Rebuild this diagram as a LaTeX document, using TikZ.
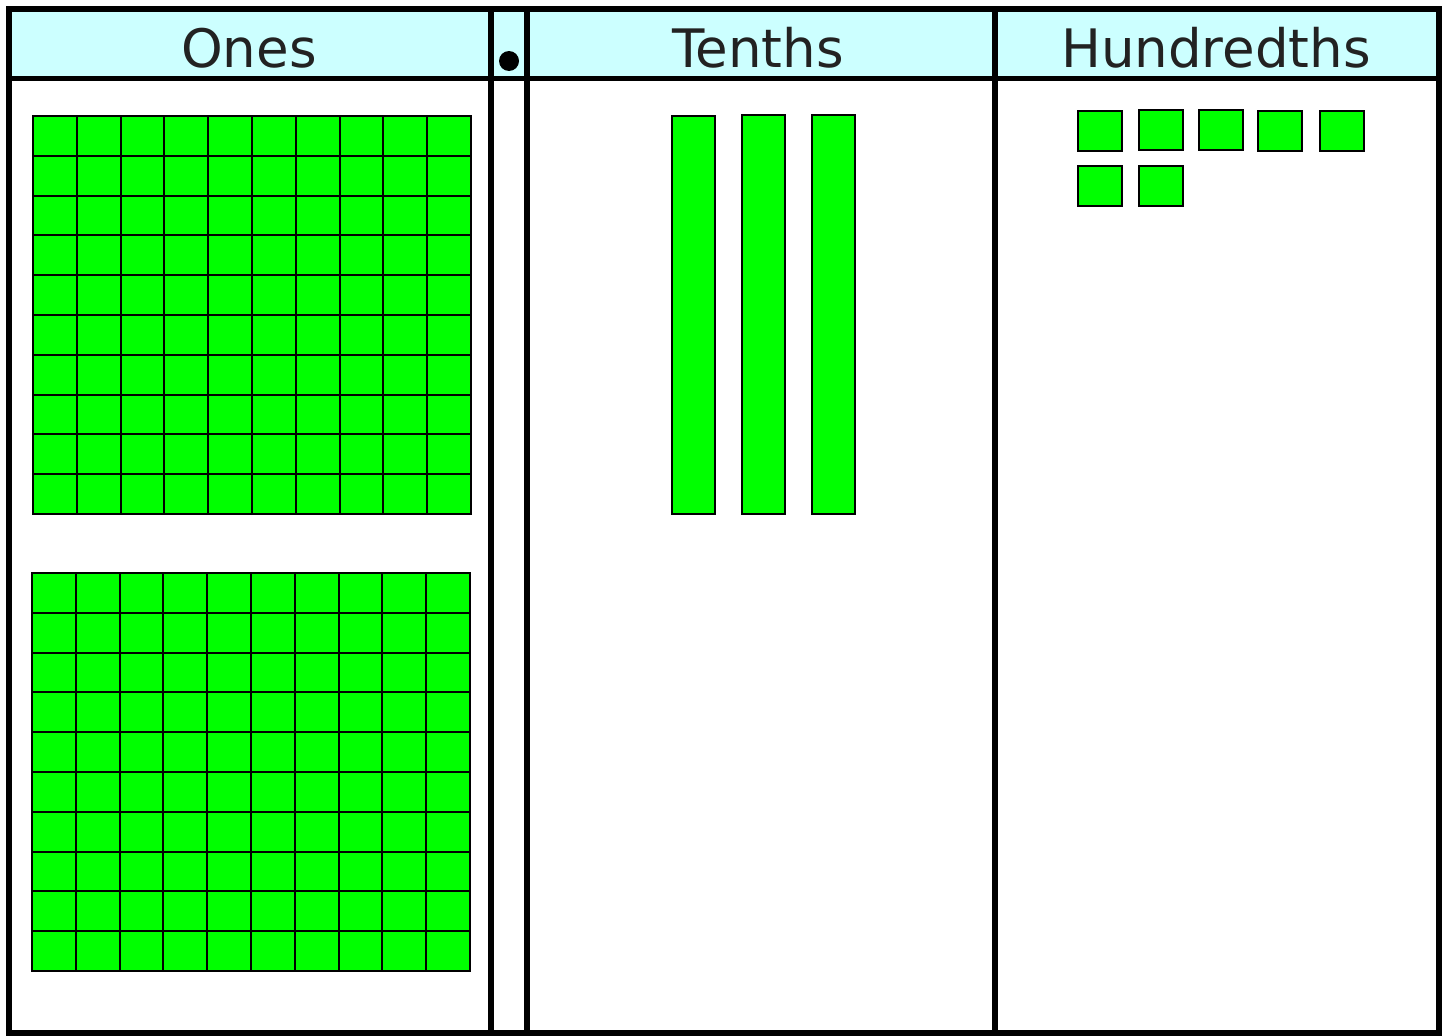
\documentclass[tikz,border=0pt]{standalone}
\usepackage{fontspec}
\setmainfont{DejaVu Sans}
\usepackage{xcolor}
\definecolor{headcyan}{HTML}{CCFFFF}
\definecolor{blockgreen}{HTML}{00FF00}
\definecolor{headtext}{HTML}{222222}
\usetikzlibrary{positioning}

\tikzset{
	frame/.style={line width=5.5pt, line cap=rect},
	block/.style={fill=blockgreen, draw=black, line width=2.2pt},
	gridline/.style={draw=black, line width=2pt, line cap=rect},
	heading/.style={text=headtext, font=\fontsize{53}{60}\selectfont, inner sep=0pt, anchor=base}
}

\begin{document}
\begin{tikzpicture}[x=1pt,y=-1pt]
		\useasboundingbox (0,0) rectangle (1446,1036);
		
		% header band
		\fill[headcyan] (9,9) rectangle (1438,78);
		
		% column labels
		\node[heading] (ones) at (249,67) {Ones};
		\node[heading] (tenths) at (758,67) {Tenths};
		\node[heading] (hundredths) at (1216,67) {Hundredths};
		\fill (509,61) circle (10);
		
		% ones: two hundred-flats
		\foreach \gx/\gy [count=\k] in {33/116, 32/573} {
			\fill[blockgreen] (\gx,\gy) rectangle ++(438,398);
			\foreach \i in {0,...,10}
				\draw[gridline] ({\gx+\i*43.8},\gy) -- ++(0,398);
			\foreach \j in {0,...,10}
				\draw[gridline] (\gx,{\gy+\j*39.8}) -- ++(438,0);
		}
		
		% tenths: three rods
		\draw[block] (672,116) rectangle (715,514);
		\draw[block] (742,115) rectangle (785,514);
		\draw[block] (812,115) rectangle (855,514);
		
		% hundredths: seven small cubes
		\foreach \sx/\sy in {1078/111, 1139/110, 1199/110, 1258/111, 1320/111, 1078/166, 1139/166}
			\draw[block] (\sx,\sy) rectangle ++(44,40);
		
		% table frame
		\draw[frame] (9,9) rectangle (1439,1033);
		\draw[frame] (9,78.5) -- (1439,78.5);
		\draw[frame] (491,9) -- (491,1033);
		\draw[frame] (527,9) -- (527,1033);
		\draw[frame] (995,9) -- (995,1033);
	\end{tikzpicture}
\end{document}
